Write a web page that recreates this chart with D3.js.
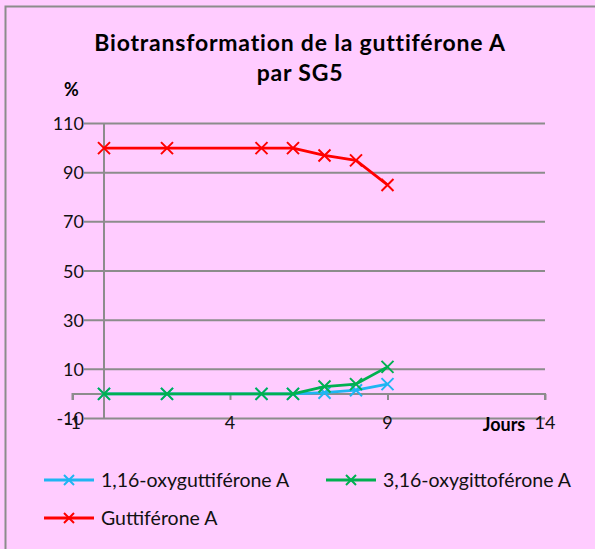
<!DOCTYPE html>
<html>
<head>
<meta charset="utf-8">
<script src="https://cdn.jsdelivr.net/npm/d3@7"></script>
<style>
  html, body { margin: 0; padding: 0; background: #fff; }
  svg { display: block; }
  text { font-family: Lato, "Open Sans", sans-serif; }
</style>
</head>
<body>
<svg id="chart" width="595" height="549"></svg>
<script>
// Days of culture
const days = [0, 2, 5, 6, 7, 8, 9];
// Percentages per compound
const oxy116 = [0, 0, 0, 0, 0.5, 1.5, 4];
const oxy316 = [0, 0, 0, 0, 3, 4, 11];
const guttiferone = [100, 100, 100, 100, 97, 95, 85];

const seriesNames = ["1,16-oxyguttiférone A", "3,16-oxygittoférone A", "Guttiférone A"];
const seriesColors = ["#1FB5F2", "#00B050", "#FF0000"];
const seriesValues = [oxy116, oxy316, guttiferone];

const yTicks = [-10, 10, 30, 50, 70, 90, 110];
const xTicks = [-1, 4, 9, 14];

const svg = d3.select("#chart");

// background and frame
svg.append("rect").attr("x", 0).attr("y", 0).attr("width", 595).attr("height", 549).attr("fill", "#FFCCFF");
svg.append("rect").attr("x", 5.5).attr("y", 6.5).attr("width", 600).attr("height", 560)
  .attr("fill", "none").attr("stroke", "#8C8C8C").attr("stroke-width", 2);

const x = d3.scaleLinear().domain([-1, 14]).range([72.5, 545]);
const y = d3.scaleLinear().domain([-10, 110]).range([418.5, 123.5]);

const grid = "#8C8C8C";

// horizontal gridlines (with outer tick stubs)
svg.append("g").selectAll("line").data(yTicks).join("line")
  .attr("x1", 84).attr("x2", x(14))
  .attr("y1", d => y(d)).attr("y2", d => y(d))
  .attr("stroke", grid).attr("stroke-width", 2);

// y tick labels
svg.append("g").selectAll("text").data(yTicks).join("text")
  .attr("x", 84).attr("y", d => y(d) + 6.5)
  .attr("text-anchor", "end").attr("font-size", 18).attr("fill", "#111")
  .text(d => d);

// vertical axis at x = 0
svg.append("line").attr("x1", x(0)).attr("x2", x(0)).attr("y1", y(110)).attr("y2", y(-10))
  .attr("stroke", grid).attr("stroke-width", 2);

// horizontal axis at y = 0 with tick marks
const xAxis = d3.axisBottom(x).tickValues(xTicks).tickSize(6).tickFormat("");
const gx = svg.append("g").attr("transform", `translate(0,${y(0)})`).call(xAxis);
gx.select(".domain").attr("stroke", grid).attr("stroke-width", 2).attr("d", `M${x(-1)},6V0H${x(14)}V6`);
gx.selectAll(".tick line").attr("stroke", grid).attr("stroke-width", 2);

// x tick labels placed at the bottom
svg.append("g").selectAll("text").data(xTicks).join("text")
  .attr("x", d => x(d)).attr("y", y(-10) + 10)
  .attr("text-anchor", "middle").attr("font-size", 18).attr("fill", "#111")
  .text(d => d);

// title
svg.append("text").attr("x", 300).attr("y", 51).attr("text-anchor", "middle")
  .attr("font-size", 23).attr("font-weight", "bold").attr("letter-spacing", 0.8)
  .text("Biotransformation de la guttiférone A");
svg.append("text").attr("x", 300).attr("y", 81).attr("text-anchor", "middle")
  .attr("font-size", 23).attr("font-weight", "bold").attr("letter-spacing", 0.8)
  .text("par SG5");

// axis titles
svg.append("text").attr("x", 71.5).attr("y", 96).attr("text-anchor", "middle")
  .attr("font-size", 18).attr("font-weight", "bold").text("%");
svg.append("text").attr("x", 504).attr("y", 431).attr("text-anchor", "middle")
  .attr("font-size", 18).attr("font-weight", "bold").text("Jours");

// series lines and markers
const line = d3.line().x((d, i) => x(days[i])).y(d => y(d));
const cross = (g, cx, cy, s, color, w) => {
  g.append("path")
    .attr("d", `M${cx - s},${cy - s}L${cx + s},${cy + s}M${cx - s},${cy + s}L${cx + s},${cy - s}`)
    .attr("stroke", color).attr("stroke-width", w).attr("fill", "none");
};

seriesValues.forEach((vals, k) => {
  const g = svg.append("g");
  g.append("path").datum(vals).attr("d", line)
    .attr("fill", "none").attr("stroke", seriesColors[k]).attr("stroke-width", 2.8)
    .attr("stroke-linejoin", "round");
  vals.forEach((v, i) => cross(g, x(days[i]), y(v), 6, seriesColors[k], 2));
});

// legend
const legendItems = [
  { name: seriesNames[0], color: seriesColors[0], lx: 44, ly: 480 },
  { name: seriesNames[1], color: seriesColors[1], lx: 326, ly: 480 },
  { name: seriesNames[2], color: seriesColors[2], lx: 44, ly: 518 }
];
legendItems.forEach(it => {
  const g = svg.append("g");
  g.append("line").attr("x1", it.lx).attr("x2", it.lx + 50).attr("y1", it.ly).attr("y2", it.ly)
    .attr("stroke", it.color).attr("stroke-width", 2.8);
  cross(g, it.lx + 25, it.ly, 5, it.color, 2);
  g.append("text").attr("x", it.lx + 57).attr("y", it.ly + 7)
    .attr("font-size", 19.5).attr("fill", "#111").text(it.name);
});
</script>
</body>
</html>
